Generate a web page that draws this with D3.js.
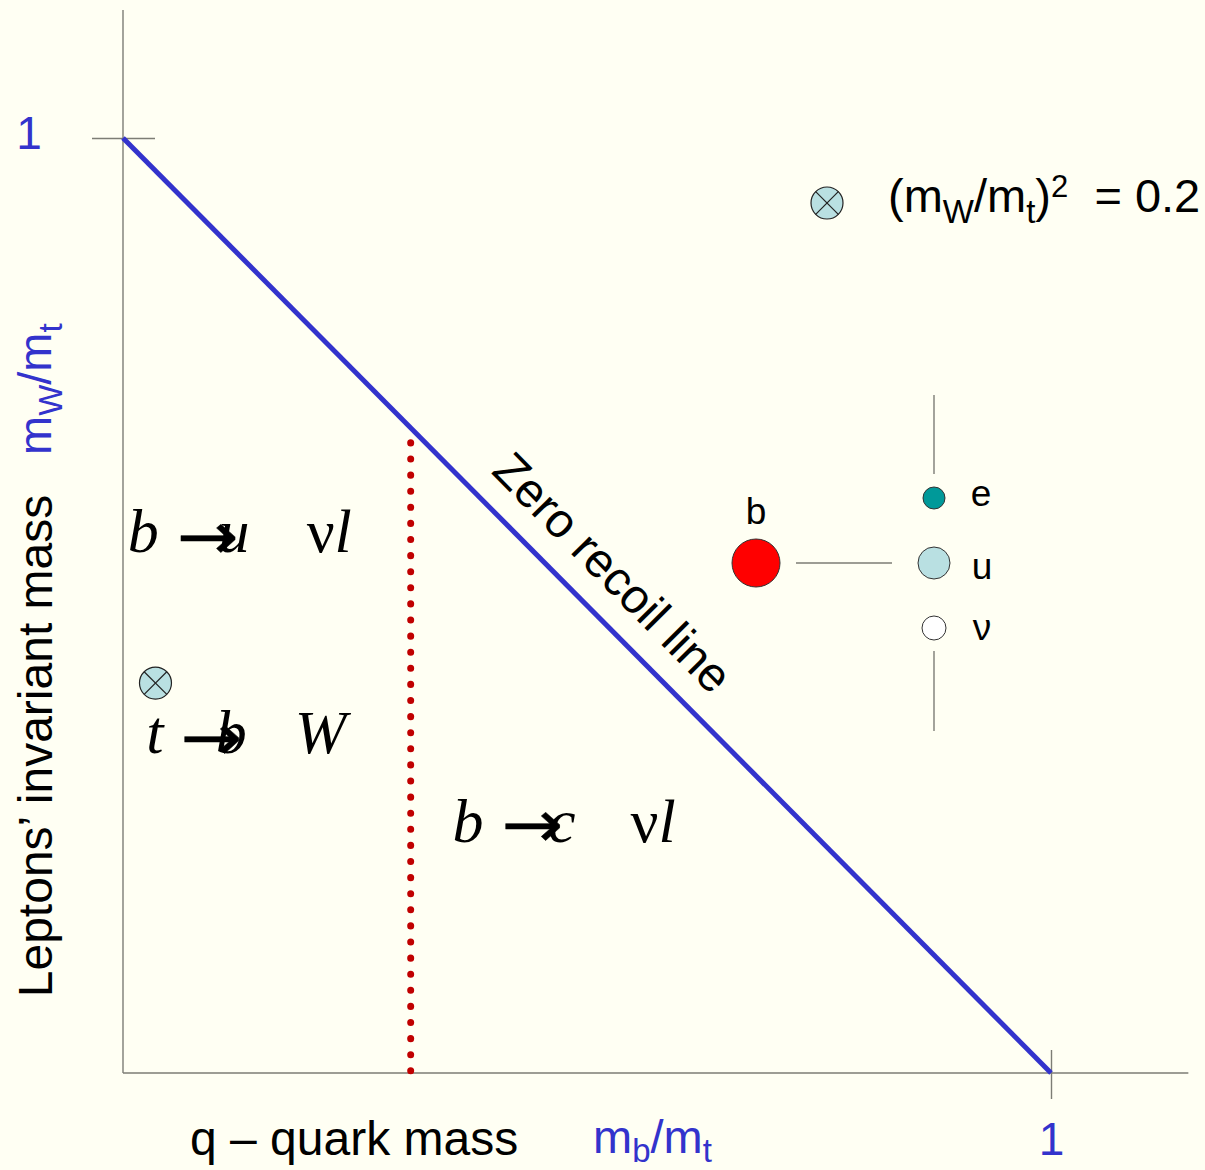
<!DOCTYPE html>
<html><head><meta charset="utf-8">
<script src="https://cdn.jsdelivr.net/npm/d3@7"></script>
<style>
html,body{margin:0;padding:0;background:#fffff3;}
svg{display:block;}
</style></head>
<body>
<svg id="c" width="1205" height="1170"></svg>
<script>
// ---- data ----
const xDomain = [0, 1];
const yDomain = [0, 1];
const xTickValues = [1];
const yTickValues = [1];
const xTickLabels = ["1"];
const yTickLabels = ["1"];
const zeroRecoilLine = [[0, 1], [1, 0]];      // m_b/m_t + m_W/m_t = 1
const bcThreshold = 0.31;                        // dotted boundary, m_b/m_t
const topDecayPoint = [0.035, 0.417];            // t -> b W point
const legendValue = "0.2";

const svg = d3.select("#c");
const x = d3.scaleLinear().domain(xDomain).range([123, 1051]);
const y = d3.scaleLinear().domain(yDomain).range([1073, 138]);

const axisColor = "#7d7d75";
const blue = "#3333cc";
const sans = "Liberation Sans, Arial, sans-serif";
const serif = "Liberation Serif, Times New Roman, DejaVu Serif, serif";

// axes lines (extended beyond 1)
svg.append("line").attr("x1", x(0)).attr("x2", x(0)).attr("y1", y(1.137)).attr("y2", y(0))
  .attr("stroke", axisColor).attr("stroke-width", 1.4);
svg.append("line").attr("x1", x(0)).attr("x2", x(1.148)).attr("y1", y(0)).attr("y2", y(0))
  .attr("stroke", axisColor).attr("stroke-width", 1.4);

// axis ticks via d3 axis generators
const yAxis = d3.axisLeft(y).tickValues(yTickValues).tickSize(31)
  .tickFormat((d, i) => yTickLabels[i]);
const gy = svg.append("g").attr("transform", `translate(${x(0)},0)`).call(yAxis);
gy.select(".domain").remove();
gy.selectAll(".tick line").attr("x1", 32).attr("stroke", axisColor).attr("stroke-width", 1.4);
gy.selectAll(".tick text").attr("fill", blue).attr("font-family", sans).attr("font-size", 46)
  .attr("text-anchor", "middle").attr("x", -94).attr("y", 10).attr("dy", 0);

const xAxis = d3.axisBottom(x).tickValues(xTickValues).tickSize(26)
  .tickFormat((d, i) => xTickLabels[i]);
const gx = svg.append("g").attr("transform", `translate(0,${y(0)})`).call(xAxis);
gx.select(".domain").remove();
gx.selectAll(".tick line").attr("y1", -23).attr("stroke", axisColor).attr("stroke-width", 1.4);
gx.selectAll(".tick text").attr("fill", blue).attr("font-family", sans).attr("font-size", 46)
  .attr("y", 82).attr("dy", 0);

// dotted threshold line
svg.append("line").attr("x1", x(bcThreshold)).attr("x2", x(bcThreshold))
  .attr("y1", y(1 - bcThreshold) + 15).attr("y2", y(0) - 2)
  .attr("stroke", "#c00000").attr("stroke-width", 7)
  .attr("stroke-linecap", "round").attr("stroke-dasharray", "0.1 16");

// zero recoil line
svg.append("path").datum(zeroRecoilLine)
  .attr("d", d3.line().x(d => x(d[0])).y(d => y(d[1])))
  .attr("stroke", blue).attr("stroke-width", 5).attr("fill", "none");

// zero recoil label rotated along the line
{
  const x0 = x(zeroRecoilLine[0][0]), y0 = y(zeroRecoilLine[0][1]);
  const x1 = x(zeroRecoilLine[1][0]), y1 = y(zeroRecoilLine[1][1]);
  const ang = Math.atan2(y1 - y0, x1 - x0);
  const t = 496;   // distance along the line
  const off = 25;  // perpendicular offset
  const px = x0 + Math.cos(ang) * t + Math.sin(ang) * off;
  const py = y0 + Math.sin(ang) * t - Math.cos(ang) * off;
  svg.append("text").attr("transform", `translate(${px},${py}) rotate(${ang * 180 / Math.PI})`)
    .attr("font-family", sans).attr("font-size", 48).attr("fill", "#000")
    .text("Zero recoil line");
}

// crossed-circle marker
function crossMarker(cx, cy, r) {
  const g = svg.append("g").attr("transform", `translate(${cx},${cy})`);
  g.append("circle").attr("r", r).attr("fill", "#b9e0e2").attr("stroke", "#222").attr("stroke-width", 1.2);
  const k = r * Math.SQRT1_2;
  g.append("line").attr("x1", -k).attr("y1", -k).attr("x2", k).attr("y2", k).attr("stroke", "#222").attr("stroke-width", 1.2);
  g.append("line").attr("x1", -k).attr("y1", k).attr("x2", k).attr("y2", -k).attr("stroke", "#222").attr("stroke-width", 1.2);
}
crossMarker(x(topDecayPoint[0]), y(topDecayPoint[1]), 16);

// legend
crossMarker(827, 203, 16);
{
  const t = svg.append("text").attr("x", 888).attr("y", 212).attr("font-family", sans)
    .attr("font-size", 47).attr("fill", "#000");
  t.append("tspan").text("(m");
  t.append("tspan").attr("font-size", 33).attr("dy", 11).text("W");
  t.append("tspan").attr("dy", -11).text("/m");
  t.append("tspan").attr("font-size", 33).attr("dy", 11).text("t");
  t.append("tspan").attr("dy", -11).text(")");
  t.append("tspan").attr("font-size", 31).attr("dy", -15).text("2");
  t.append("tspan").attr("dy", 15).text("\u00a0 = " + legendValue);
}

// decay labels (pieces placed individually, in data coordinates)
function piece(txt, xd, yd, opts = {}) {
  svg.append("text").attr("x", x(xd)).attr("y", y(yd))
    .attr("font-family", opts.family || serif).attr("font-size", opts.size || 62)
    .attr("font-style", opts.upright ? "normal" : "italic")
    .attr("fill", "#000").text(txt);
}
function arrow(xd, yd) {
  svg.append("text").attr("transform", `translate(${x(xd)},${y(yd)}) scale(1.12,1)`)
    .attr("font-family", "DejaVu Sans, sans-serif").attr("font-size", 66)
    .attr("fill", "#000").attr("stroke", "#000").attr("stroke-width", 0.4).text("\u2192");
}
// b -> u  nu l
piece("b", 0.005, 0.557);
arrow(0.058, 0.55);
piece("u", 0.103, 0.557);
piece("\u03bd", 0.198, 0.557, {upright: true});
piece("l", 0.228, 0.557);
// t -> b  W
piece("t", 0.025, 0.342);
arrow(0.062, 0.335);
piece("b", 0.1, 0.342);
piece("W", 0.185, 0.342);
// b -> c  nu l
piece("b", 0.355, 0.247);
arrow(0.408, 0.242);
piece("c", 0.458, 0.247);
piece("\u03bd", 0.547, 0.247, {upright: true});
piece("l", 0.577, 0.247);

// b-decay diagram
svg.append("line").attr("x1", 934).attr("x2", 934).attr("y1", 395).attr("y2", 474).attr("stroke", axisColor).attr("stroke-width", 1.4);
svg.append("line").attr("x1", 934).attr("x2", 934).attr("y1", 651).attr("y2", 731).attr("stroke", axisColor).attr("stroke-width", 1.4);
svg.append("line").attr("x1", 796).attr("x2", 892).attr("y1", 563).attr("y2", 563).attr("stroke", axisColor).attr("stroke-width", 1.4);
svg.append("circle").attr("cx", 756).attr("cy", 563).attr("r", 24).attr("fill", "#ff0000").attr("stroke", "#333").attr("stroke-width", 1);
svg.append("circle").attr("cx", 934).attr("cy", 498).attr("r", 11).attr("fill", "#009999").attr("stroke", "#333").attr("stroke-width", 1);
svg.append("circle").attr("cx", 934).attr("cy", 563).attr("r", 16).attr("fill", "#b9e0e2").attr("stroke", "#333").attr("stroke-width", 1);
svg.append("circle").attr("cx", 934).attr("cy", 628).attr("r", 12).attr("fill", "#ffffff").attr("stroke", "#333").attr("stroke-width", 1);
const diagLabel = (t, xx, yy, fs) => svg.append("text").attr("x", xx).attr("y", yy)
  .attr("font-family", sans).attr("font-size", fs).attr("fill", "#000").attr("text-anchor", "middle").text(t);
diagLabel("b", 756, 524, 37);
diagLabel("e", 981, 506, 37);
diagLabel("u", 982, 579, 37);
diagLabel("\u03bd", 982, 640, 37);

// axis titles
svg.append("text").attr("transform", "translate(52,746) rotate(-90)").attr("text-anchor", "middle")
  .attr("font-family", sans).attr("font-size", 48).attr("fill", "#000").text("Leptons\u2019 invariant mass");
{
  const t = svg.append("text").attr("transform", "translate(51,455) rotate(-90)")
    .attr("font-family", sans).attr("font-size", 47).attr("fill", blue);
  t.append("tspan").text("m");
  t.append("tspan").attr("font-size", 33).attr("dy", 11).text("W");
  t.append("tspan").attr("dy", -11).text("/m");
  t.append("tspan").attr("font-size", 33).attr("dy", 11).text("t");
}
svg.append("text").attr("x", 190).attr("y", 1155).attr("font-family", sans).attr("font-size", 48)
  .attr("fill", "#000").text("q \u2013 quark mass");
{
  const t = svg.append("text").attr("x", 593).attr("y", 1153)
    .attr("font-family", sans).attr("font-size", 47).attr("fill", blue);
  t.append("tspan").text("m");
  t.append("tspan").attr("font-size", 33).attr("dy", 9).text("b");
  t.append("tspan").attr("dy", -9).text("/m");
  t.append("tspan").attr("font-size", 33).attr("dy", 9).text("t");
}
</script>
</body></html>
